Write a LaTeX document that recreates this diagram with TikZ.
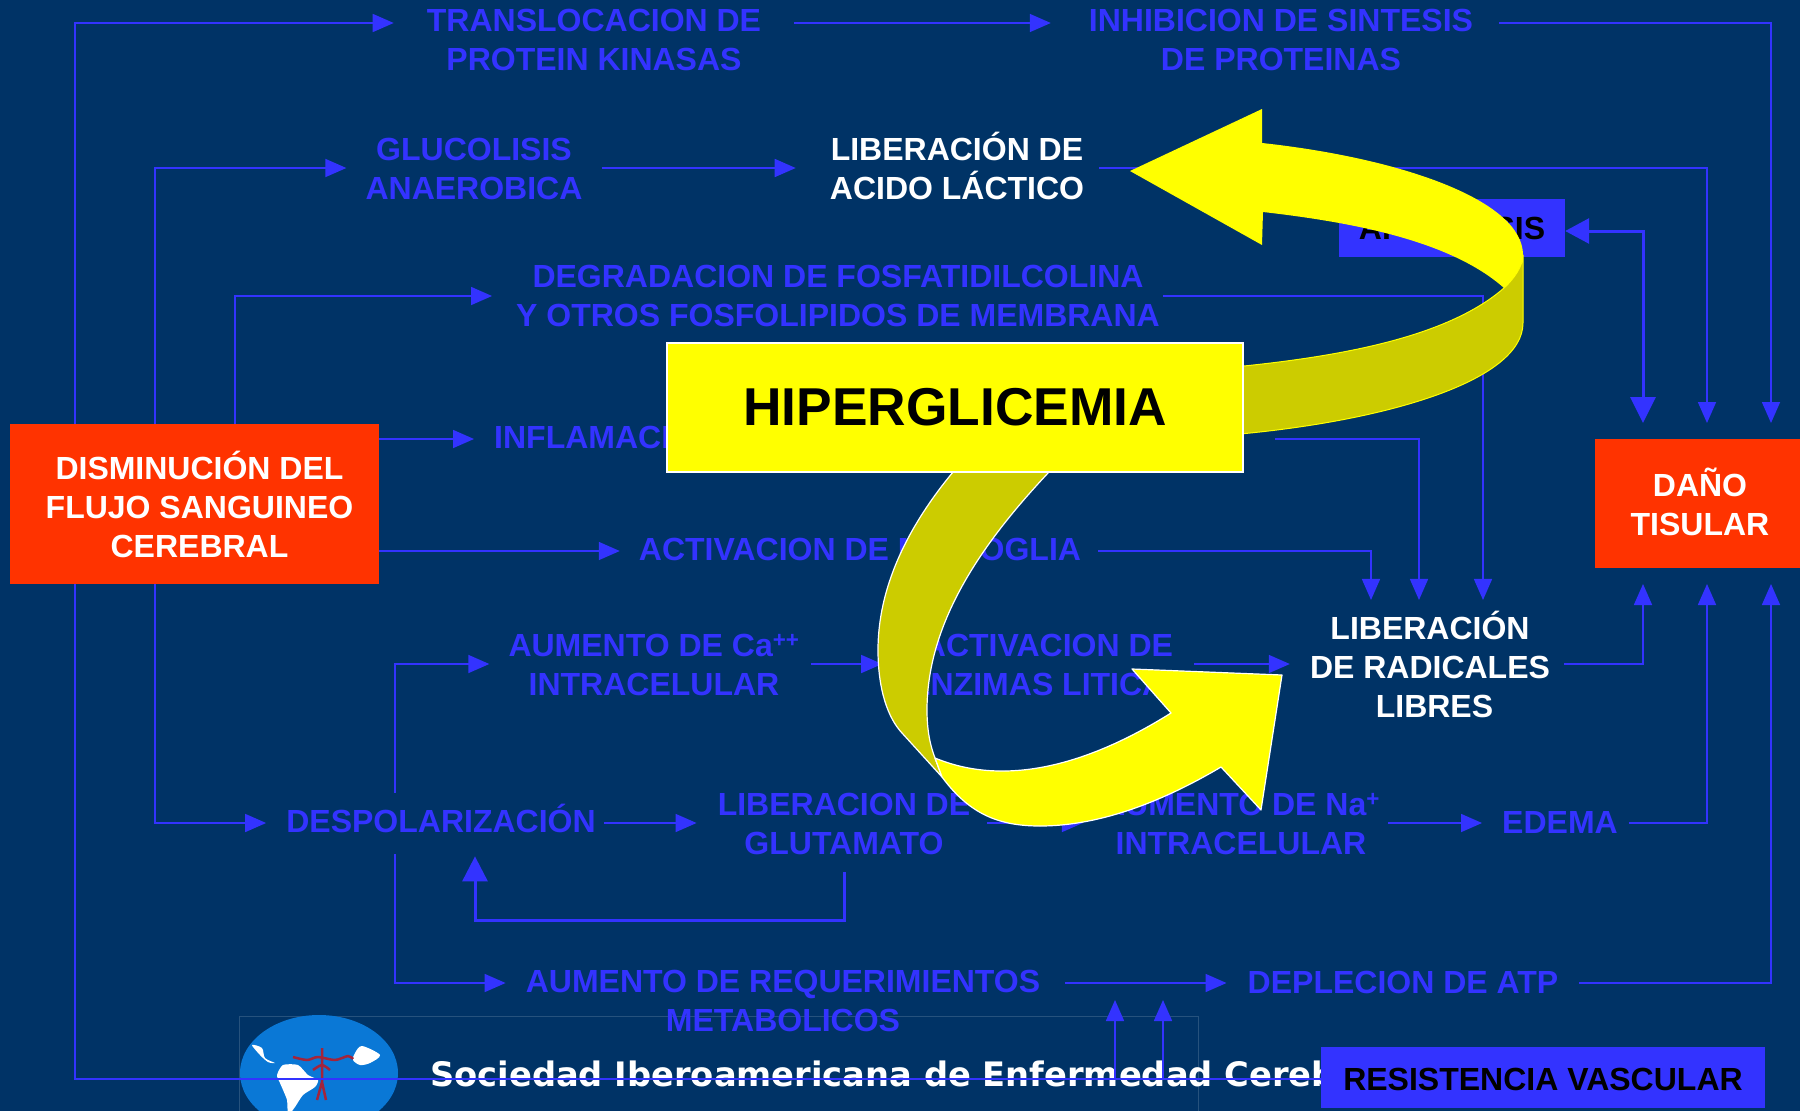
\documentclass[tikz,border=0pt]{standalone}
\usepackage{fontspec}
\setmainfont{Liberation Sans}
\newfontfamily\logofont{DejaVu Sans}
\usepackage{xcolor}
\usepackage{tikz}
\usetikzlibrary{arrows.meta}
\definecolor{backColor}{HTML}{003366}
\definecolor{linkColor}{HTML}{3333FF}
\definecolor{redColor}{HTML}{FF3300}
\definecolor{brightColor}{HTML}{FFFF00}
\definecolor{ribbonColor}{HTML}{CCCC00}
\definecolor{globeColor}{HTML}{0A78D6}
\definecolor{arteryColor}{HTML}{A3243B}

\begin{document}
\begin{tikzpicture}[x=1pt, y=-1pt,
    lbl/.style={text=linkColor, font=\fontsize{32}{39}\selectfont\bfseries, align=center, inner ysep=15pt},
    lblwhite/.style={lbl, text=white},
    redbox/.style={lbl, text=white, fill=redColor},
    bluebox/.style={lbl, text=black, fill=linkColor, inner sep=0pt},
    wire/.style={draw=linkColor, line width=1.6pt},
    link/.style={wire, -{Triangle[length=21pt,width=18pt]}},
    heavy/.style={draw=linkColor, line width=3pt, -{Triangle[length=25pt,width=25pt]}},
    bandfill/.style={fill=ribbonColor, line join=round},
    topfill/.style={fill=brightColor, line join=round}]
    \useasboundingbox (0,0) rectangle (1800,1111);
    \fill[backColor] (0,0) rectangle (1800,1111);

    % logo strip
    \draw[backColor!85!white, line width=1pt] (239,1130) -- (239,1016) -- (1198,1016) -- (1198,1130);
    \fill[globeColor] (319,1073) ellipse (79 and 58);
    \fill[white] plot[smooth cycle, tension=0.5] coordinates {(252,1045) (262,1048) (265,1058) (275,1063) (268,1062) (260,1055)};
    \fill[white] plot[smooth cycle, tension=0.4] coordinates {(277,1075) (283,1065) (298,1065) (308,1075) (318,1080) (315,1087) (303,1095) (295,1107) (288,1115) (287,1100) (280,1083)};
    \fill[white] plot[smooth cycle, tension=0.5] coordinates {(355,1053) (362,1046) (380,1055) (370,1063) (360,1065) (353,1060)};
    \draw[arteryColor, line width=2.5pt, line join=round]
        plot[smooth] coordinates {(293,1057) (307,1060) (318,1057) (335,1060) (348,1056) (353,1059)}
        (322,1048) -- (322,1082) (322,1082) -- (317,1100) (322,1082) -- (326,1100)
        plot[smooth] coordinates {(313,1070) (322,1065) (330,1070)};
    \node[text=white, font=\logofont\fontsize{33.7}{40}\selectfont\bfseries, anchor=base west, inner sep=0pt]
        (sociedad) at (430,1086) {Sociedad Iberoamericana de Enfermedad Cereb};

    % reference rows and columns of the wiring
    \coordinate (rowa) at (0,23);
    \coordinate (rowb) at (0,168);
    \coordinate (rowc) at (0,296);
    \coordinate (rowd) at (0,439);
    \coordinate (rowe) at (0,551);
    \coordinate (rowf) at (0,664);
    \coordinate (rowg) at (0,823);
    \coordinate (rowh) at (0,983);
    \coordinate (rowi) at (0,1079);
    \coordinate (rowj) at (0,1000);
    \coordinate (cola) at (75,0);
    \coordinate (colb) at (155,0);
    \coordinate (colc) at (235,0);
    \coordinate (cold) at (395,0);
    \coordinate (cole) at (1371,0);
    \coordinate (colf) at (1419,0);
    \coordinate (colg) at (1483,0);
    \coordinate (colh) at (1643,0);
    \coordinate (coli) at (1707,0);
    \coordinate (colj) at (1771,0);
    \coordinate (colk) at (1115,0);
    \coordinate (coll) at (1163,0);
    \coordinate (inflamacionEnd) at (1275,439);

    \node[lbl, inner xsep=33pt] (translocacion) at (594,40) {TRANSLOCACION DE\\PROTEIN KINASAS};
    \node[lbl, inner xsep=26pt] (inhibicion) at (1281,40) {INHIBICION DE SINTESIS\\DE PROTEINAS};
    \node[lbl, inner xsep=19pt] (glucolisis) at (474,169) {GLUCOLISIS\\ANAEROBICA};
    \node[lblwhite, inner xsep=15pt] (acido) at (957,166) {LIBERACIÓN DE\\ACIDO LÁCTICO};
    \node[lbl, inner xsep=3pt] (degradacion) at (838,296) {DEGRADACION DE FOSFATIDILCOLINA\\Y OTROS FOSFOLIPIDOS DE MEMBRANA};
    \node[lbl, inner xsep=20pt, anchor=west] (inflamacion) at (474,437) {INFLAMACION};
    \node[lbl, inner xsep=17pt] (microglia) at (860,549) {ACTIVACION DE MICROGLIA};
    \node[lbl, inner xsep=11pt] (calcio) at (654,665) {AUMENTO DE Ca\textsuperscript{++}\\INTRACELULAR};
    \node[lbl, inner xsep=7pt] (enzimas) at (1048,665) {ACTIVACION DE\\ENZIMAS LITICAS};
    \node[lblwhite, inner xsep=14pt, inner ysep=11pt] (radicales) at (1430,664.5) {LIBERACIÓN\\DE RADICALES\\\hspace*{9pt}LIBRES};
    \node[lbl, inner xsep=8pt, inner ysep=11.5pt, text depth=10pt] (despol) at (441,823.5) {DESPOLARIZACIÓN};
    \node[lbl, inner xsep=17pt, inner ysep=17pt] (glutamato) at (844,824) {LIBERACION DE\\GLUTAMATO};
    \node[lbl, inner xsep=8pt] (sodio) at (1241,824) {AUMENTO DE Na\textsuperscript{+}\\INTRACELULAR};
    \node[lbl, inner xsep=11pt] (edema) at (1560,822) {EDEMA};
    \node[lbl, inner xsep=20pt] (requerimientos) at (783,1001) {AUMENTO DE REQUERIMIENTOS\\METABOLICOS};
    \node[lbl, inner xsep=21pt] (deplecion) at (1403,982) {DEPLECION DE ATP};

    \node[redbox, minimum width=369pt, minimum height=160pt, inner sep=0pt] (flujo) at (194.5,504)
        {\hspace*{10pt}DISMINUCIÓN DEL\\\hspace*{10pt}FLUJO SANGUINEO\\\hspace*{10pt}CEREBRAL};
    \node[redbox, minimum width=205pt, minimum height=129pt, inner sep=0pt, outer ysep=16pt, text depth=4pt] (dano) at (1697.5,503.5)
        {\hspace*{5pt}DAÑO\\\hspace*{5pt}TISULAR};
    \node[bluebox, minimum width=226pt, minimum height=58pt] (apoptosis) at (1452,228) {APOPTOSIS};
    \node[bluebox, minimum width=444pt, minimum height=61pt, text height=27pt] (resistencia) at (1543,1077.5) {RESISTENCIA VASCULAR};

    % out of the red box
    \draw[link] (flujo.north -| cola) |- (translocacion.west |- rowa);
    \draw[link] (flujo.north -| colb) |- (glucolisis.west |- rowb);
    \draw[link, shorten >=21pt] (flujo.north -| colc) |- (degradacion.west |- rowc);
    \draw[link] (flujo.east |- rowd) -- (inflamacion.west |- rowd);
    \draw[link, shorten >=2pt] (flujo.east |- rowe) -- (microglia.west |- rowe);
    \draw[link, shorten >=12pt] (flujo.south -| colb) |- (despol.west |- rowg);
    \draw[wire] (flujo.south -| cola) |- (resistencia.west |- rowi);

    % top rows
    \draw[link, shorten >=12pt] (translocacion.east |- rowa) -- (inhibicion.west |- rowa);
    \draw[link] (inhibicion.east |- rowa) -| (dano.north -| colj);
    \draw[link, shorten >=19pt] (glucolisis.east |- rowb) -- (acido.west |- rowb);
    \draw[link] (acido.east |- rowb) -| (dano.north -| coli);
    \draw[draw=linkColor, line width=3pt, {Triangle[length=24pt,width=25pt]}-{Triangle[length=26pt,width=25pt]}]
        ([yshift=-3pt]apoptosis.east) -| (dano.north -| colh);

    % into the free radicals
    \draw[link] (degradacion.east |- rowc) -| (radicales.north -| colg);
    \draw[link] (inflamacionEnd) -| (radicales.north -| colf);
    \draw[link] (microglia.east |- rowe) -| (radicales.north -| cole);
    \draw[link, shorten >=20pt] (calcio.east |- rowf) -- (enzimas.west |- rowf);
    \draw[link, shorten >=6pt] (enzimas.east |- rowf) -- (radicales.west |- rowf);
    \draw[link] (radicales.east |- rowf) -| (dano.south -| colh);

    % depolarization branch
    \draw[link, shorten >=8pt] (despol.north -| cold) |- (calcio.west |- rowf);
    \draw[link] (despol.south -| cold) |- (requerimientos.west |- rowh);
    \draw[link, shorten >=4pt] (despol.east |- rowg) -- (glutamato.west |- rowg);
    \draw[link, shorten >=11pt] (glutamato.east |- rowg) -- (sodio.west |- rowg);
    \draw[link, shorten >=9pt] (sodio.east |- rowg) -- (edema.west |- rowg);
    \draw[link] (edema.east |- rowg) -| (dano.south -| coli);
    \draw[heavy, shorten >=2pt] (glutamato.south) -- ++(0,48) -| ([xshift=34pt]despol.south);
    \draw[link, shorten <=5pt] (requerimientos.east |- rowh) -- (deplecion.west |- rowh);
    \draw[link] (deplecion.east |- rowh) -| (dano.south -| colj);
    \foreach \c in {colk,coll}
        \draw[link] (\c |- rowi) -- (\c |- rowj);

    % upper ribbon
    \draw[brightColor, line width=1pt, bandfill] (1523,255) -- (1523,323)
        .. controls (1523,380) and (1390,420) .. (1240,434)
        -- (1240,366) -- (1244,366)
        .. controls (1350,355) and (1450,335) .. (1504,288)
        .. controls (1515,278) and (1523,265) .. (1523,255) -- cycle;
    \fill[brightColor] (1130,171) -- (1262,109) -- (1262,143)
        .. controls (1400,158) and (1523,200) .. (1523,255)
        .. controls (1523,265) and (1515,278) .. (1504,288)
        .. controls (1450,240) and (1350,222) .. (1263,212)
        -- (1262,245) -- cycle;

    % lower ribbon
    \draw[white, line width=1.2pt, bandfill] (953,468) -- (953,472)
        .. controls (905,530) and (878,590) .. (878,650)
        .. controls (878,690) and (888,718) .. (902,733)
        -- (942,777) -- (935,758)
        .. controls (930,745) and (927,730) .. (927,710)
        .. controls (927,620) and (985,540) .. (1049,472) -- (1049,468) -- cycle;
    \draw[white, line width=1.2pt, topfill] (935,758)
        .. controls (1000,785) and (1080,770) .. (1171,713)
        -- (1132,669) -- (1282,675) -- (1261,810) -- (1221,767)
        .. controls (1140,815) and (1080,826) .. (1040,826)
        .. controls (1000,826) and (970,815) .. (942,777) -- cycle;

    \node[draw=white, line width=1.2pt, fill=brightColor, text=black, font=\fontsize{53.3}{60}\selectfont\bfseries,
        minimum width=576pt, minimum height=129pt, inner sep=0pt] (hiper) at (955,407.5) {HIPERGLICEMIA};
\end{tikzpicture}
\end{document}
